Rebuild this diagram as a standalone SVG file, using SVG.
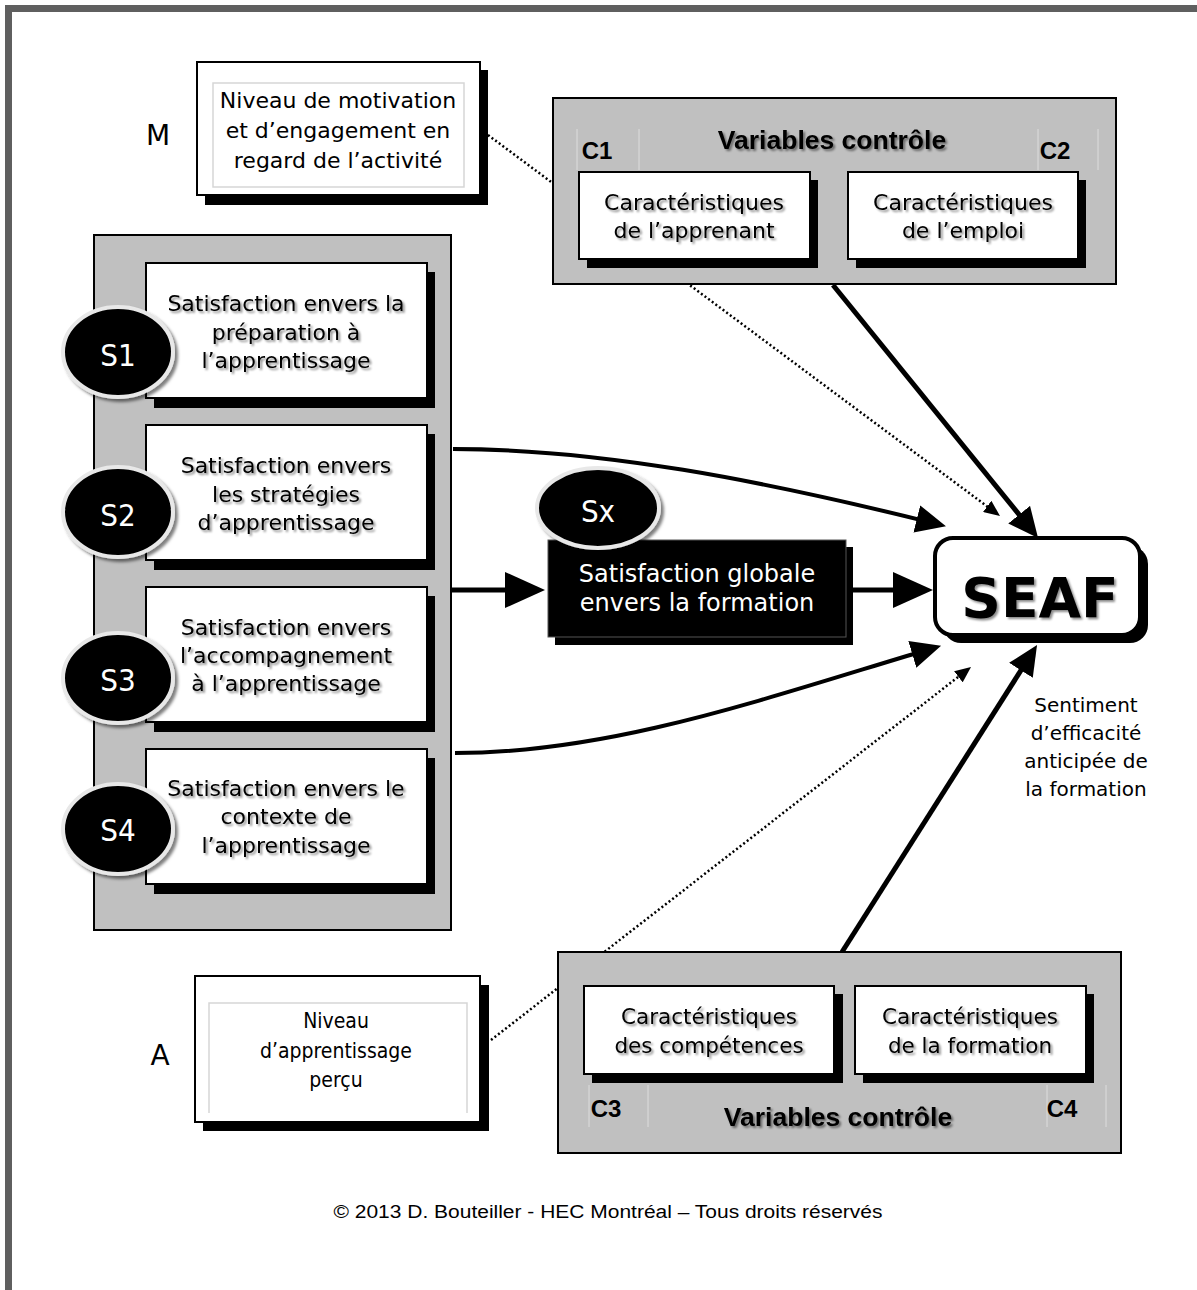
<svg xmlns="http://www.w3.org/2000/svg" width="1197" height="1290" viewBox="0 0 1197 1290">
  <defs>
    <filter id="txtShadow" x="-10%" y="-30%" width="130%" height="170%">
      <feDropShadow dx="2" dy="2" stdDeviation="1.2" flood-color="#000" flood-opacity="0.45"/>
    </filter>
    <filter id="rimShadow" x="-20%" y="-20%" width="150%" height="150%">
      <feDropShadow dx="3" dy="3" stdDeviation="1.5" flood-color="#000" flood-opacity="0.5"/>
    </filter>
    <marker id="headBig" viewBox="0 0 40 36" markerUnits="userSpaceOnUse" markerWidth="40" markerHeight="36" refX="20" refY="18" orient="auto">
      <path d="M0,0 L40,18 L0,36 Z" fill="#000"/>
    </marker>
    <marker id="headMid" viewBox="0 0 30 28" markerUnits="userSpaceOnUse" markerWidth="30" markerHeight="28" refX="15" refY="14" orient="auto">
      <path d="M0,0 L30,14 L0,28 Z" fill="#000"/>
    </marker>
    <marker id="headSmall" viewBox="0 0 16 14" markerUnits="userSpaceOnUse" markerWidth="16" markerHeight="14" refX="8" refY="7" orient="auto">
      <path d="M0,0 L16,7 L0,14 Z" fill="#000"/>
    </marker>
  </defs>
  <style>
    .frame { fill: none; stroke: #5f5f5f; stroke-width: 7; }
    .panel { fill: #c0c0c0; stroke: #000; stroke-width: 2; }
    .card { fill: #fff; stroke: #000; stroke-width: 2; }
    .shadow { fill: #000; }
    .inner { fill: none; stroke: #d6d6d6; stroke-width: 1.5; }
    .sep { stroke: #d8d8d8; stroke-width: 1.2; }
    .txt { font-family: "DejaVu Sans", sans-serif; font-size: 22px; fill: #000; text-anchor: middle; }
    .narrow { font-family: "DejaVu Sans Condensed", "DejaVu Sans", sans-serif; font-size: 21px; fill: #000; text-anchor: middle; }
    .lbl { font-family: "Liberation Sans", Arial, sans-serif; font-weight: bold; font-size: 24px; fill: #000; text-anchor: middle; }
    .head { font-family: "Liberation Sans", Arial, sans-serif; font-weight: bold; font-size: 26.5px; fill: #000; text-anchor: middle; }
    .badge { fill: #000; stroke: #e8e8e8; stroke-width: 4; }
    .badgeTxt { font-family: "DejaVu Sans Condensed", "DejaVu Sans", sans-serif; font-size: 31px; fill: #fff; text-anchor: middle; }
    .letter { font-family: "DejaVu Sans", sans-serif; font-size: 28px; fill: #000; text-anchor: middle; }
    .thick { fill: none; stroke: #000; stroke-width: 5; }
    .curve { fill: none; stroke: #000; stroke-width: 4; }
    .dotted { fill: none; stroke: #000; stroke-width: 2.5; stroke-dasharray: 2 2.5; }
  </style>

  <!-- page frame (open on the right and bottom) -->
  <rect class="frame" x="8.5" y="8.5" width="1300" height="1400"/>

  <!-- connectors -->
  <g id="connectors">
    <line class="dotted" x1="488" y1="135" x2="993.6" y2="511.2" marker-end="url(#headSmall)"/>
    <line class="dotted" x1="491" y1="1040" x2="964.7" y2="671.9" marker-end="url(#headSmall)"/>
    <line class="thick" x1="833" y1="285" x2="1028.6" y2="526.3" marker-end="url(#headMid)"/>
    <line class="thick" x1="842" y1="952" x2="1029" y2="657.7" marker-end="url(#headMid)"/>
    <path class="curve" d="M453,449 C600,449 760,480 931.4,522.6" marker-end="url(#headMid)"/>
    <path class="curve" d="M455,753 C610,753 760,700 926.7,650" marker-end="url(#headMid)"/>
    <line class="thick" x1="452" y1="590" x2="525" y2="590" marker-end="url(#headBig)"/>
    <line class="thick" x1="852" y1="590" x2="913" y2="590" marker-end="url(#headBig)"/>
  </g>

  <!-- M : motivation -->
  <g id="node-m">
    <text class="letter" x="158" y="145">M</text>
    <rect class="shadow" x="205" y="70" width="283" height="135"/>
    <rect class="card" x="197" y="62" width="283" height="133"/>
    <rect class="inner" x="213" y="83" width="251" height="104"/>
    <text class="txt" x="338" y="108">Niveau de motivation</text>
    <text class="txt" x="338" y="138">et d’engagement en</text>
    <text class="txt" x="338" y="168">regard de l’activité</text>
  </g>

  <!-- control variables C1 / C2 -->
  <g id="node-c12">
    <rect class="panel" x="553" y="98" width="563" height="186"/>
    <line class="sep" x1="577" y1="129" x2="577" y2="170"/>
    <line class="sep" x1="639" y1="129" x2="639" y2="170"/>
    <line class="sep" x1="1038" y1="129" x2="1038" y2="170"/>
    <line class="sep" x1="1098" y1="129" x2="1098" y2="170"/>
    <text class="lbl" x="597" y="159">C1</text>
    <text class="lbl" x="1055" y="159">C2</text>
    <text class="head" x="832" y="149" filter="url(#txtShadow)">Variables contrôle</text>
    <rect class="shadow" x="587" y="180" width="231" height="88"/>
    <rect class="card" x="579" y="172" width="231" height="87"/>
    <text class="txt" x="694" y="210" filter="url(#txtShadow)">Caractéristiques</text>
    <text class="txt" x="694" y="238" filter="url(#txtShadow)">de l’apprenant</text>
    <rect class="shadow" x="856" y="180" width="230" height="88"/>
    <rect class="card" x="848" y="172" width="230" height="87"/>
    <text class="txt" x="963" y="210" filter="url(#txtShadow)">Caractéristiques</text>
    <text class="txt" x="963" y="238" filter="url(#txtShadow)">de l’emploi</text>
  </g>

  <!-- satisfaction dimensions S1..S4 -->
  <g id="node-s-panel">
    <rect class="panel" x="94" y="235" width="357" height="695"/>
  </g>
  <g id="node-s1">
    <rect class="shadow" x="154" y="272" width="281" height="136"/>
    <rect class="card" x="146" y="263" width="281" height="135"/>
    <g filter="url(#txtShadow)">
      <text class="txt" x="286" y="311">Satisfaction envers la</text>
      <text class="txt" x="286" y="340">préparation à</text>
      <text class="txt" x="286" y="368">l’apprentissage</text>
    </g>
    <ellipse class="badge" cx="118" cy="352" rx="55" ry="45" filter="url(#rimShadow)"/>
    <text class="badgeTxt" x="118" y="366">S1</text>
  </g>
  <g id="node-s2">
    <rect class="shadow" x="154" y="434" width="281" height="136"/>
    <rect class="card" x="146" y="425" width="281" height="135"/>
    <g filter="url(#txtShadow)">
      <text class="txt" x="286" y="473">Satisfaction envers</text>
      <text class="txt" x="286" y="502">les stratégies</text>
      <text class="txt" x="286" y="530">d’apprentissage</text>
    </g>
    <ellipse class="badge" cx="118" cy="512" rx="55" ry="45" filter="url(#rimShadow)"/>
    <text class="badgeTxt" x="118" y="526">S2</text>
  </g>
  <g id="node-s3">
    <rect class="shadow" x="154" y="596" width="281" height="136"/>
    <rect class="card" x="146" y="587" width="281" height="135"/>
    <g filter="url(#txtShadow)">
      <text class="txt" x="286" y="635">Satisfaction envers</text>
      <text class="txt" x="286" y="663">l’accompagnement</text>
      <text class="txt" x="286" y="691">à l’apprentissage</text>
    </g>
    <ellipse class="badge" cx="118" cy="678" rx="55" ry="45" filter="url(#rimShadow)"/>
    <text class="badgeTxt" x="118" y="691">S3</text>
  </g>
  <g id="node-s4">
    <rect class="shadow" x="154" y="758" width="281" height="136"/>
    <rect class="card" x="146" y="749" width="281" height="135"/>
    <g filter="url(#txtShadow)">
      <text class="txt" x="286" y="796">Satisfaction envers le</text>
      <text class="txt" x="286" y="824">contexte de</text>
      <text class="txt" x="286" y="853">l’apprentissage</text>
    </g>
    <ellipse class="badge" cx="118" cy="829" rx="55" ry="45" filter="url(#rimShadow)"/>
    <text class="badgeTxt" x="118" y="841">S4</text>
  </g>

  <!-- Sx : overall satisfaction -->
  <g id="node-sx">
    <rect class="shadow" x="555" y="547" width="298" height="98"/>
    <rect x="548" y="540" width="298" height="97" fill="#000" stroke="#555" stroke-width="1"/>
    <text class="txt" x="697" y="582" style="font-size:24px; fill:#fff">Satisfaction globale</text>
    <text class="txt" x="697" y="611" style="font-size:24px; fill:#fff">envers la formation</text>
    <ellipse class="badge" cx="598" cy="508" rx="61" ry="40" filter="url(#rimShadow)"/>
    <text class="badgeTxt" x="598" y="522">Sx</text>
  </g>

  <!-- SEAF -->
  <g id="node-seaf">
    <rect x="943" y="546" width="205" height="97" rx="18" fill="#000"/>
    <rect x="935" y="538" width="205" height="97" rx="18" fill="#fff" stroke="#000" stroke-width="4"/>
    <text x="1040" y="617" filter="url(#txtShadow)" style="font-family:'DejaVu Sans',sans-serif; font-weight:bold; font-size:55px; text-anchor:middle">SEAF</text>
    <text class="txt" x="1086" y="712" style="font-size:20px">Sentiment</text>
    <text class="txt" x="1086" y="740" style="font-size:20px">d’efficacité</text>
    <text class="txt" x="1086" y="768" style="font-size:20px">anticipée de</text>
    <text class="txt" x="1086" y="796" style="font-size:20px">la formation</text>
  </g>

  <!-- A : perceived learning -->
  <g id="node-a">
    <text class="letter" x="160" y="1065">A</text>
    <rect class="shadow" x="203" y="985" width="286" height="146"/>
    <rect class="card" x="195" y="976" width="285" height="146"/>
    <path class="inner" d="M209,1113 V1003 H467 V1113"/>
    <text class="narrow" x="336" y="1028">Niveau</text>
    <text class="narrow" x="336" y="1058">d’apprentissage</text>
    <text class="narrow" x="336" y="1087">perçu</text>
  </g>

  <!-- control variables C3 / C4 -->
  <g id="node-c34">
    <rect class="panel" x="558" y="952" width="563" height="201"/>
    <line class="sep" x1="589" y1="1085" x2="589" y2="1127"/>
    <line class="sep" x1="648" y1="1085" x2="648" y2="1127"/>
    <line class="sep" x1="1047" y1="1085" x2="1047" y2="1127"/>
    <line class="sep" x1="1106" y1="1085" x2="1106" y2="1127"/>
    <rect class="shadow" x="592" y="994" width="251" height="89"/>
    <rect class="card" x="584" y="986" width="250" height="88"/>
    <text class="txt" x="709" y="1024" style="font-size:21.5px" filter="url(#txtShadow)">Caractéristiques</text>
    <text class="txt" x="709" y="1053" style="font-size:21.5px" filter="url(#txtShadow)">des compétences</text>
    <rect class="shadow" x="863" y="994" width="231" height="89"/>
    <rect class="card" x="855" y="986" width="231" height="88"/>
    <text class="txt" x="970" y="1024" style="font-size:21.5px" filter="url(#txtShadow)">Caractéristiques</text>
    <text class="txt" x="970" y="1053" style="font-size:21.5px" filter="url(#txtShadow)">de la formation</text>
    <text class="lbl" x="606" y="1117">C3</text>
    <text class="lbl" x="1062" y="1117">C4</text>
    <text class="head" x="838" y="1126" filter="url(#txtShadow)">Variables contrôle</text>
  </g>

  <!-- footer -->
  <text x="608" y="1218" style="font-family:'Liberation Sans',Arial,sans-serif; font-size:18px; text-anchor:middle" textLength="549" lengthAdjust="spacingAndGlyphs">© 2013 D. Bouteiller - HEC Montréal – Tous droits réservés</text>
</svg>
